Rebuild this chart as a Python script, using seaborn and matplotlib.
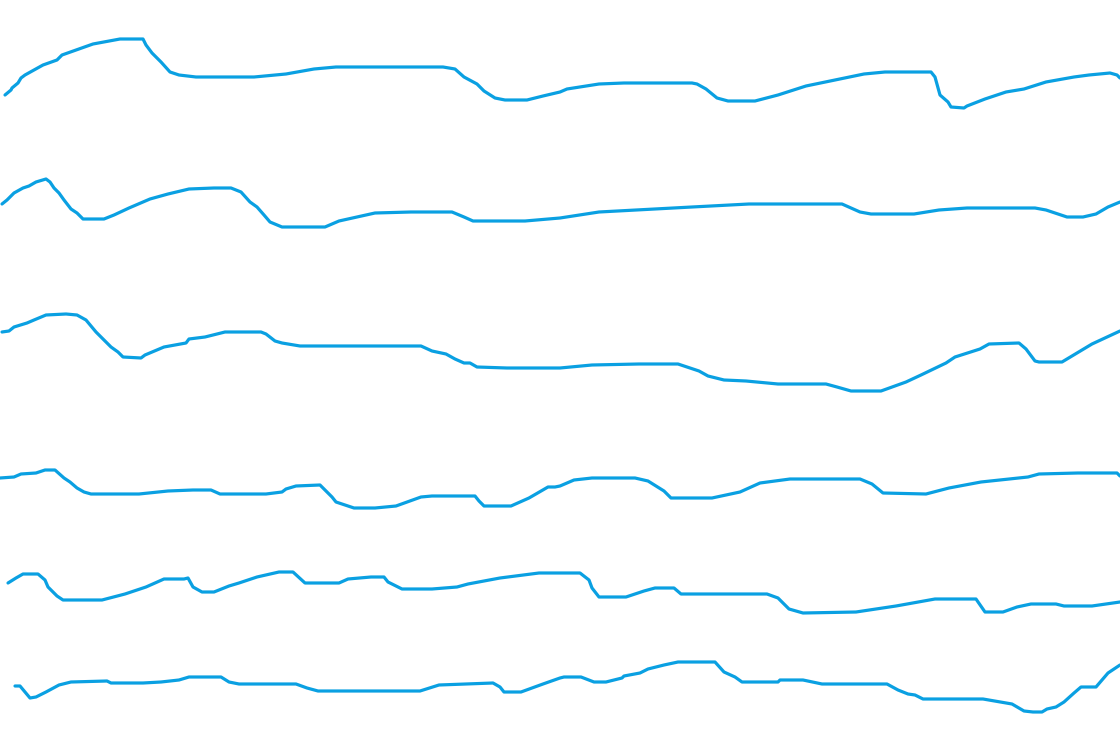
import numpy as np
import pandas as pd
import matplotlib
matplotlib.use("Agg")
import matplotlib.pyplot as plt
import seaborn as sns

# ---- data (time in units, value per series) ----
series_names = ["Series 1", "Series 2", "Series 3", "Series 4", "Series 5", "Series 6"]

t1 = [0.5, 1.1, 1.2, 1.8, 2.1, 2.5, 4.3, 5.7, 6.2, 9.3, 12.0, 14.3, 14.6, 15.2, 16.1, 17.0, 17.9, 19.6, 25.4, 28.6,
      31.4, 33.6, 44.3, 45.5, 46.4, 47.7, 48.4, 49.5, 50.5, 52.7, 54.3, 56.0, 56.7, 59.9, 62.4, 69.2, 69.7, 70.6, 71.7, 72.8,
      75.5, 77.8, 80.6, 86.4, 88.5, 93.1, 93.5, 94.0, 94.8, 95.1, 96.4, 96.7, 98.5, 100.6, 102.4, 104.6, 107.4, 108.9, 111.0, 111.7,
      112.0]
v1 = [25, 30, 32, 37, 42, 45, 55, 60, 65, 76, 81, 81, 75, 67, 58, 48, 45, 43, 43, 46,
      51, 53, 53, 51, 43, 36, 29, 22, 20, 20, 24, 28, 31, 36, 37, 37, 36, 31, 22, 19,
      19, 25, 34, 46, 48, 48, 43, 25, 18, 13, 12, 14, 21, 28, 31, 38, 43, 45, 47, 45,
      42]

t2 = [0.2, 0.7, 1.4, 2.3, 2.9, 3.6, 4.6, 5.0, 5.4, 5.9, 6.4, 7.1, 7.7, 8.3, 10.4, 11.4, 12.9, 15.0, 16.8, 18.9,
      21.4, 23.1, 24.1, 25.0, 25.7, 26.4, 27.0, 28.2, 32.5, 33.9, 34.8, 35.7, 37.5, 41.1, 45.2, 46.4, 47.3, 52.5, 56.0, 59.9,
      69.2, 74.9, 84.2, 86.0, 87.1, 91.4, 93.9, 96.7, 103.5, 104.6, 106.7, 108.3, 109.6, 110.8, 112.0]
v2 = [36, 40, 47, 52, 54, 58, 61, 58, 52, 47, 40, 31, 27, 21, 21, 25, 32, 41, 46, 51,
      52, 52, 48, 38, 33, 25, 18, 13, 13, 19, 21, 23, 27, 28, 28, 23, 19, 19, 22, 28,
      33, 36, 36, 28, 26, 26, 30, 32, 32, 30, 23, 23, 26, 33, 38]

t3 = [0.2, 0.9, 1.4, 2.7, 3.4, 4.6, 6.6, 7.7, 8.6, 9.6, 11.1, 11.8, 12.3, 14.1, 14.5, 16.4, 18.6, 18.9, 20.5, 22.5,
      26.1, 26.6, 27.5, 28.2, 30.0, 42.1, 43.2, 44.6, 45.5, 46.4, 47.0, 47.7, 50.7, 56.0, 59.2, 63.9, 67.8, 69.9, 70.8, 72.4,
      74.6, 77.8, 82.6, 83.7, 85.1, 88.1, 90.6, 92.1, 94.6, 95.5, 98.0, 98.9, 101.9, 102.6, 103.5, 103.9, 106.2, 109.2, 112.0]
v3 = [68, 69, 73, 77, 80, 85, 86, 85, 80, 68, 53, 48, 43, 42, 45, 53, 57, 61, 63, 68,
      68, 66, 59, 57, 54, 54, 49, 46, 41, 37, 37, 33, 32, 32, 35, 36, 36, 29, 24, 20,
      19, 16, 16, 13, 9, 9, 18, 25, 37, 43, 51, 56, 57, 51, 39, 38, 38, 56, 69]

t4 = [0.0, 1.4, 2.1, 3.6, 4.5, 5.5, 6.4, 7.0, 7.7, 8.4, 9.1, 13.9, 16.8, 19.3, 21.1, 22.0, 26.6, 28.2, 28.6, 29.6,
      32.0, 32.3, 33.2, 33.6, 35.4, 37.5, 39.6, 42.1, 43.2, 47.5, 47.9, 48.4, 51.1, 52.9, 54.8, 55.5, 56.0, 57.4, 59.2, 63.5,
      64.8, 66.4, 67.1, 71.2, 74.0, 76.0, 79.0, 86.0, 87.2, 88.3, 92.6, 94.9, 98.1, 102.8, 103.9, 107.8, 111.7, 112.0]
v4 = [42, 43, 46, 47, 50, 50, 42, 38, 32, 28, 26, 26, 29, 30, 30, 26, 26, 28, 31, 34,
      35, 32, 23, 18, 12, 12, 14, 23, 24, 24, 19, 14, 14, 22, 33, 33, 34, 40, 42, 42,
      39, 29, 22, 22, 28, 37, 41, 41, 36, 27, 26, 32, 38, 43, 46, 47, 47, 44]

t5 = [0.8, 1.6, 2.3, 3.8, 4.5, 4.8, 5.7, 6.3, 10.2, 12.5, 14.6, 16.4, 18.4, 18.8, 19.3, 20.2, 21.4, 22.9, 23.9, 25.7,
      27.9, 29.3, 30.5, 33.9, 34.8, 37.1, 38.4, 38.8, 40.2, 43.2, 45.7, 46.8, 50.0, 53.9, 56.0, 58.0, 58.9, 59.2, 59.9, 62.6,
      64.4, 65.5, 67.4, 68.1, 76.7, 77.8, 78.9, 80.3, 85.6, 89.6, 93.5, 97.6, 98.5, 100.3, 101.7, 103.1, 105.6, 106.4, 109.2, 112.0]
v5 = [47, 52, 56, 56, 50, 43, 34, 30, 30, 36, 43, 51, 51, 52, 43, 38, 38, 44, 47, 53,
      58, 58, 47, 47, 51, 53, 53, 48, 41, 41, 43, 46, 52, 57, 57, 57, 50, 42, 33, 33,
      39, 42, 42, 36, 36, 32, 21, 17, 18, 24, 31, 31, 18, 18, 23, 26, 26, 24, 24, 28]

t6 = [1.5, 2.0, 2.5, 3.0, 3.6, 4.6, 5.9, 7.1, 10.7, 11.1, 14.3, 16.1, 17.9, 18.9, 22.1, 22.9, 23.9, 29.6, 30.7, 31.8,
      42.0, 43.9, 49.3, 50.0, 50.4, 52.1, 54.3, 56.0, 56.4, 58.1, 59.4, 60.6, 62.2, 62.4, 64.0, 64.8, 66.4, 67.8, 71.5, 72.4,
      73.5, 74.2, 77.8, 78.0, 80.3, 82.2, 88.7, 89.8, 90.8, 91.5, 92.3, 98.3, 101.2, 102.4, 103.3, 104.2, 104.7, 105.6, 106.4, 107.4,
      108.1, 109.6, 110.8, 112.0]
v6 = [44, 44, 38, 32, 33, 38, 45, 48, 49, 47, 47, 48, 50, 53, 53, 48, 46, 46, 42, 39,
      39, 45, 47, 43, 38, 38, 46, 52, 53, 53, 48, 48, 52, 54, 57, 61, 65, 68, 68, 58,
      53, 48, 48, 50, 50, 46, 46, 40, 36, 35, 31, 31, 26, 19, 18, 18, 21, 23, 28, 37,
      43, 43, 57, 65]

# ---- layout (vertical stacking of the series) ----
row_offsets = [610, 490, 330, 210, 100, 0]
line_color = "#0aa0e2"

times = [t1, t2, t3, t4, t5, t6]
values = [v1, v2, v3, v4, v5, v6]
frames = []
for name, t, v, off in zip(series_names, times, values, row_offsets):
    frames.append(pd.DataFrame({"series": name, "t": t, "value": v,
                                "y": np.asarray(v, dtype=float) + off}))
df = pd.concat(frames, ignore_index=True)

sns.set_theme(style="white")
fig = plt.figure(figsize=(11.2, 7.3), dpi=100)
ax = fig.add_axes([0, 0, 1, 1])
sns.lineplot(data=df, x="t", y="y", hue="series", palette=[line_color] * 6,
             estimator=None, sort=False, legend=False, linewidth=2.3, ax=ax,
             solid_capstyle="round", solid_joinstyle="round")
ax.set_xlim(0, 112)
ax.set_ylim(0, 730)
ax.set_axis_off()
fig.savefig("out.png", dpi=100, facecolor="white")
